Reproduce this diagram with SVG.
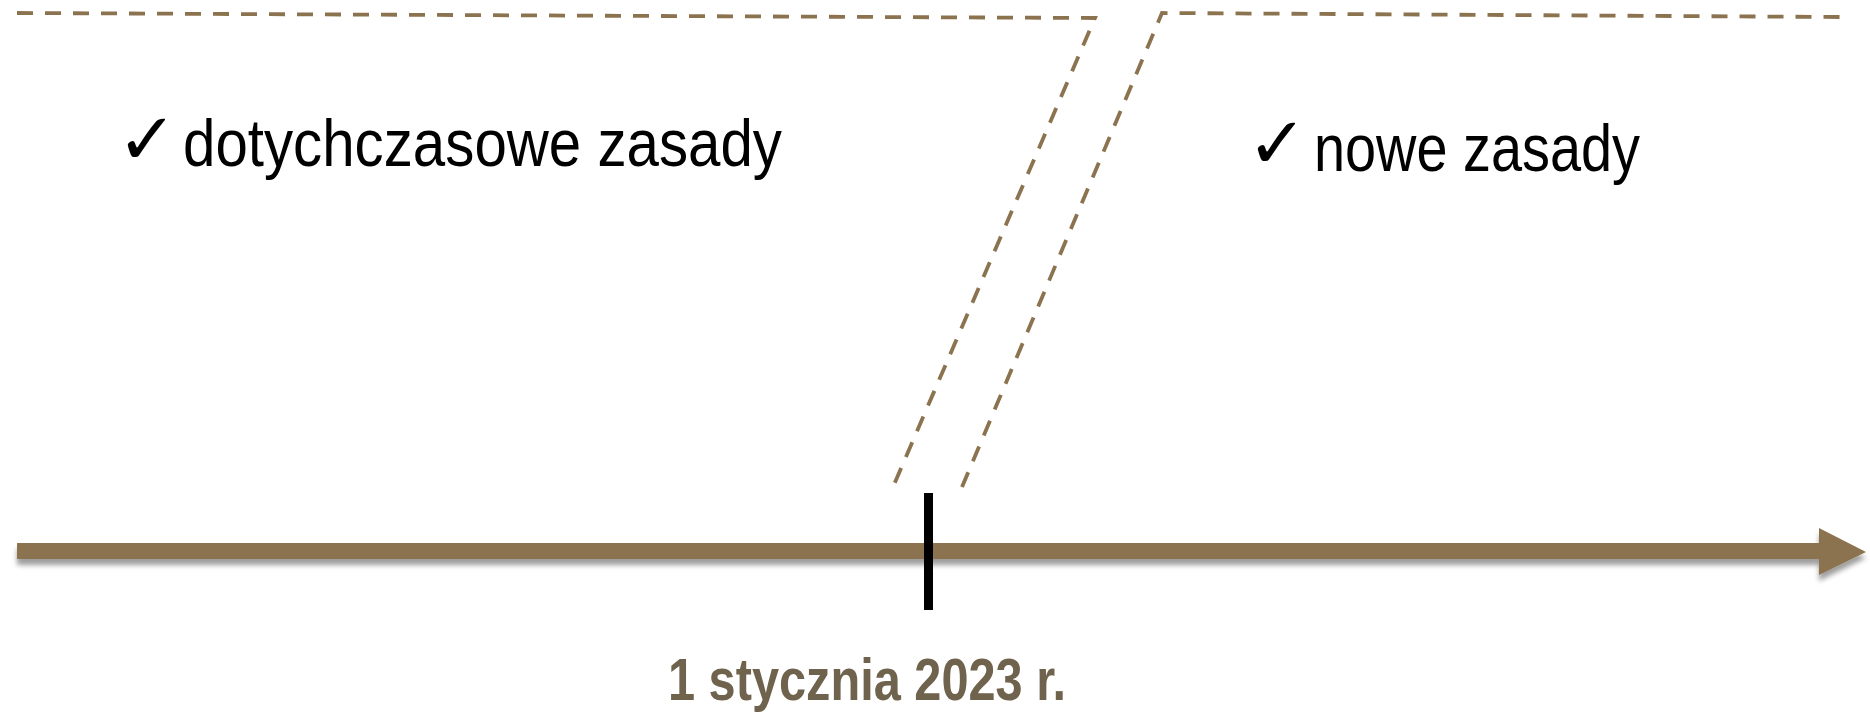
<svg xmlns="http://www.w3.org/2000/svg" width="1870" height="712" viewBox="0 0 1870 712">
  <style>
    .boundary { fill: none; stroke: #8c7350; stroke-width: 3.8; stroke-dasharray: 16 12; stroke-linejoin: miter; }
    .rule { font-family: "Liberation Sans", "Open Sans", sans-serif; font-size: 67px; fill: #000; }
    .check { font-family: "DejaVu Sans", sans-serif; font-weight: bold; font-size: 72px; fill: #000; }
    .date { font-family: "Liberation Sans", "Open Sans", sans-serif; font-weight: bold; font-size: 60px; fill: #6f634d; }
  </style>
  <defs>
    <filter id="axisShadow" x="-2%" y="-60%" width="104%" height="260%">
      <feDropShadow dx="0" dy="6" stdDeviation="2.5" flood-color="#000" flood-opacity="0.38"/>
    </filter>
    <filter id="soft" x="-5%" y="-20%" width="110%" height="140%">
      <feGaussianBlur stdDeviation="0.7"/>
    </filter>
  </defs>

  <!-- dashed boundary between the old and the new regime -->
  <g id="connectors">
    <path class="boundary" d="M17,13 L1095,18 L893,487"/>
    <path class="boundary" d="M962,487 L1162,13 L1842,17"/>
  </g>

  <!-- time axis -->
  <g id="axis">
    <polygon points="17,543 1819,543 1819,528 1866,552 1819,575 1819,559 17,559" fill="#8c7350" filter="url(#axisShadow)"/>
  </g>

  <!-- cut-over marker -->
  <g id="marker">
    <rect x="924" y="493" width="9" height="117" fill="#000"/>
  </g>

  <g id="old-rules">
    <text class="check" x="117" y="164">✓</text>
    <text class="rule" x="183" y="166" textLength="599" lengthAdjust="spacingAndGlyphs">dotychczasowe zasady</text>
  </g>

  <g id="new-rules">
    <text class="check" x="1247" y="168">✓</text>
    <text class="rule" x="1314" y="171" textLength="326" lengthAdjust="spacingAndGlyphs">nowe zasady</text>
  </g>

  <g id="date-label">
    <text class="date" x="668" y="700" textLength="398" lengthAdjust="spacingAndGlyphs" filter="url(#soft)">1 stycznia 2023 r.</text>
  </g>
</svg>
